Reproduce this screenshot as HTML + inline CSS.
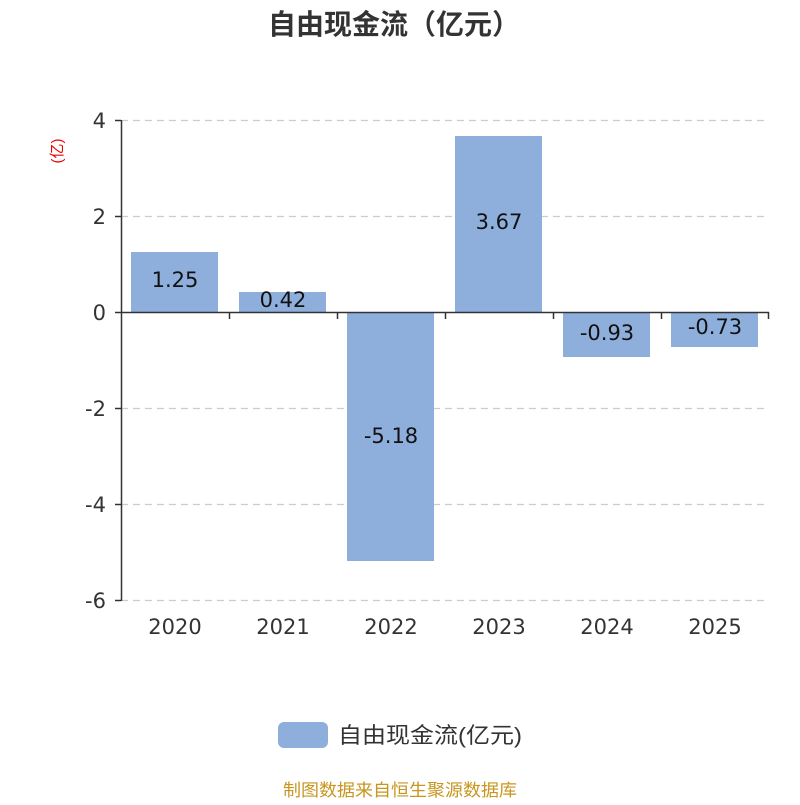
<!DOCTYPE html>
<html><head><meta charset="utf-8"><style>
body{margin:0;background:#fff;width:800px;height:800px;overflow:hidden}
</style></head><body>
<svg width="800" height="800" xmlns="http://www.w3.org/2000/svg" font-family="'Liberation Sans','Noto Sans CJK SC',sans-serif">
<text x="268" y="34" font-size="28" font-weight="bold" fill="#333" textLength="252" lengthAdjust="spacingAndGlyphs">自由现金流（亿元）</text>
<text x="66" y="155" font-size="15" fill="#e00" text-anchor="middle" transform="rotate(-90 62 155)">(亿)</text>
<g stroke="#ccc" stroke-dasharray="7,5" stroke-width="1.3">
<line x1="121" y1="120.5" x2="769" y2="120.5"/>
<line x1="121" y1="216.5" x2="769" y2="216.5"/>
<line x1="121" y1="408.5" x2="769" y2="408.5"/>
<line x1="121" y1="504.5" x2="769" y2="504.5"/>
<line x1="121" y1="600.5" x2="769" y2="600.5"/>
</g>
<g fill="#8eaedb">
<rect x="131" y="252" width="87" height="60"/>
<rect x="239" y="292" width="87" height="20"/>
<rect x="347" y="312" width="87" height="249"/>
<rect x="455" y="136" width="87" height="176"/>
<rect x="563" y="312" width="87" height="45"/>
<rect x="671" y="312" width="87" height="35"/>
</g>
<g stroke="#333" stroke-width="1.5">
<line x1="121.5" y1="120" x2="121.5" y2="601"/>
<line x1="121" y1="312.5" x2="769" y2="312.5"/>
<line x1="115" y1="120.5" x2="121" y2="120.5"/>
<line x1="115" y1="216.5" x2="121" y2="216.5"/>
<line x1="115" y1="312.5" x2="121" y2="312.5"/>
<line x1="115" y1="408.5" x2="121" y2="408.5"/>
<line x1="115" y1="504.5" x2="121" y2="504.5"/>
<line x1="115" y1="600.5" x2="121" y2="600.5"/>
<line x1="229.5" y1="312" x2="229.5" y2="319"/>
<line x1="337.5" y1="312" x2="337.5" y2="319"/>
<line x1="445.5" y1="312" x2="445.5" y2="319"/>
<line x1="553.5" y1="312" x2="553.5" y2="319"/>
<line x1="661.5" y1="312" x2="661.5" y2="319"/>
<line x1="768.5" y1="312" x2="768.5" y2="319"/>
</g>
<g font-size="21" fill="#333" text-anchor="end" font-family="'DejaVu Sans',sans-serif">
<text x="106" y="128">4</text><text x="106" y="224">2</text><text x="106" y="320">0</text>
<text x="106" y="416">-2</text><text x="106" y="512">-4</text><text x="106" y="608">-6</text>
</g>
<g font-size="21" fill="#333" text-anchor="middle" font-family="'DejaVu Sans',sans-serif">
<text x="175" y="634">2020</text><text x="283" y="634">2021</text><text x="391" y="634">2022</text>
<text x="499" y="634">2023</text><text x="607" y="634">2024</text><text x="715" y="634">2025</text>
</g>
<g font-size="21" fill="#111" text-anchor="middle" font-family="'DejaVu Sans',sans-serif">
<text x="175" y="287">1.25</text><text x="283" y="307">0.42</text><text x="391" y="443">-5.18</text>
<text x="499" y="229">3.67</text><text x="607" y="340">-0.93</text><text x="715" y="334">-0.73</text>
</g>
<rect x="278" y="722" width="50" height="26" rx="6" fill="#8eaedb"/>
<text x="338" y="743" font-size="22" fill="#333" textLength="184" lengthAdjust="spacingAndGlyphs">自由现金流(亿元)</text>
<text x="283" y="796" font-size="17" fill="#c8961e" textLength="234" lengthAdjust="spacingAndGlyphs">制图数据来自恒生聚源数据库</text>
</svg>
</body></html>
